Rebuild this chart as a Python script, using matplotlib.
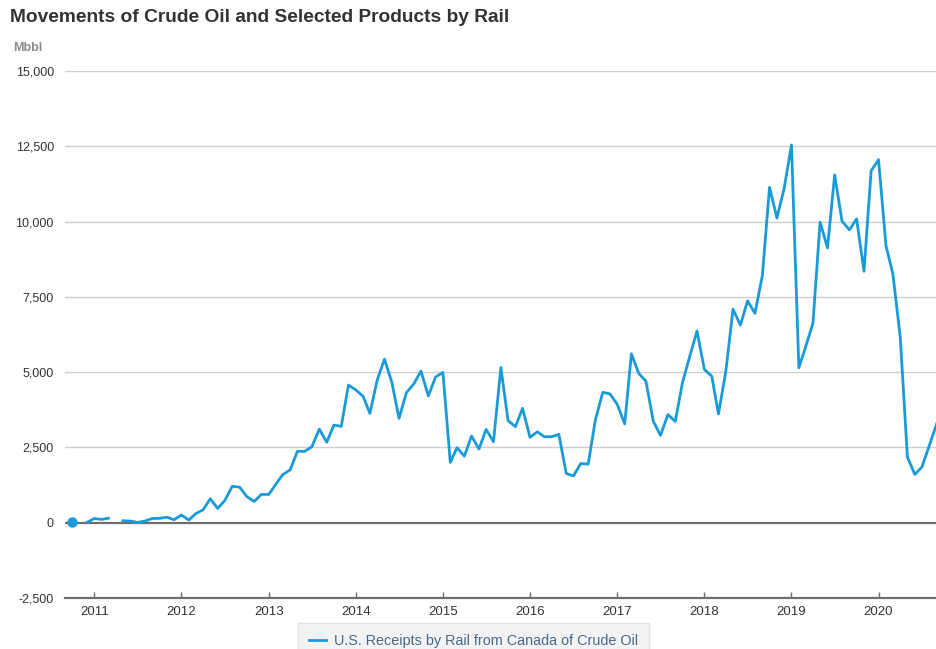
import numpy as np
import pandas as pd
import matplotlib
matplotlib.use("Agg")
import matplotlib.pyplot as plt
import matplotlib.dates as mdates
from matplotlib.ticker import FixedLocator, FuncFormatter

plt.rcParams['font.family'] = ['Liberation Sans', 'DejaVu Sans']

# ---- data (Mbbl), monthly from Oct 2010 to Sep 2020 ----
start_month = '2010-10-01'
v2010 = [40, np.nan, 10]
v2011 = [140, 110, 150, np.nan, 65, 55, 10, 55, 140, 145, 185, 100]
v2012 = [255, 90, 300, 430, 795, 475, 740, 1210, 1180, 870, 705, 940]
v2013 = [940, 1290, 1600, 1755, 2370, 2370, 2525, 3110, 2670, 3240, 3200, 4570]
v2014 = [4410, 4190, 3630, 4745, 5430, 4665, 3465, 4320, 4610, 5035, 4210, 4835]
v2015 = [4990, 2000, 2490, 2210, 2880, 2445, 3100, 2690, 5155, 3390, 3190, 3800]
v2016 = [2835, 3020, 2855, 2855, 2935, 1635, 1555, 1965, 1945, 3410, 4330, 4280]
v2017 = [3930, 3280, 5610, 4955, 4700, 3365, 2900, 3590, 3365, 4645, 5535, 6365]
v2018 = [5090, 4865, 3610, 5035, 7090, 6560, 7370, 6950, 8210, 11140, 10120, 11085]
v2019 = [12545, 5145, 5830, 6625, 9980, 9125, 11550, 10010, 9725, 10090, 8350, 11690]
v2020 = [12055, 9205, 8265, 6160, 2180, 1605, 1850, 2570, 3290]

series_name = 'U.S. Receipts by Rail from Canada of Crude Oil'
title = 'Movements of Crude Oil and Selected Products by Rail'
unit_label = 'Mbbl'
y_ticks = [-2500, 0, 2500, 5000, 7500, 10000, 12500, 15000]

values = np.array(v2010 + v2011 + v2012 + v2013 + v2014 + v2015 + v2016
                  + v2017 + v2018 + v2019 + v2020, dtype=float)
dates = pd.date_range(start_month, periods=len(values), freq='MS')
x = mdates.date2num(dates.to_pydatetime())

W, H = 937, 649
fig = plt.figure(figsize=(W / 100, H / 100), dpi=100)
left_px, right_px, top_px, bottom_px = 65, 937, 71, 598
ax = fig.add_axes([left_px / W, 1 - bottom_px / H,
                   (right_px - left_px) / W, (bottom_px - top_px) / H])

line_color = '#1a9ad8'
ax.plot(x, values, color=line_color, lw=2.0, solid_joinstyle='round',
        label=series_name, zorder=3)
# isolated points (no neighbours) drawn as dots
iso = []
for i in range(len(values)):
    if np.isnan(values[i]):
        continue
    prev_nan = i == 0 or np.isnan(values[i - 1])
    next_nan = i == len(values) - 1 or np.isnan(values[i + 1])
    if prev_nan and next_nan:
        iso.append(i)
ax.plot(x[iso], values[iso], 'o', color=line_color, ms=6.5, zorder=4)

ax.set_ylim(-2500, 15000)
ax.set_xlim(mdates.date2num(pd.Timestamp('2010-08-31')),
            mdates.date2num(pd.Timestamp('2020-09-02')))

ax.yaxis.set_major_locator(FixedLocator(y_ticks))
ax.yaxis.set_major_formatter(FuncFormatter(lambda v, p: f'{int(v):,}'))
ax.xaxis.set_major_locator(mdates.YearLocator())
ax.xaxis.set_major_formatter(mdates.DateFormatter('%Y'))

for yv in y_ticks:
    if yv in (-2500,):
        continue
    if yv == 0:
        ax.axhline(0, color='#6e6e6e', lw=1.6, zorder=2)
    else:
        ax.axhline(yv, color='#cfcfcf', lw=1.0, zorder=1)

for s in ['top', 'right', 'left']:
    ax.spines[s].set_visible(False)
ax.spines['bottom'].set_color('#6e6e6e')
ax.spines['bottom'].set_linewidth(1.6)

ax.tick_params(axis='y', length=0, pad=8, labelsize=9, labelcolor='#333333')
ax.tick_params(axis='x', direction='in', length=4, width=1, color='#6e6e6e',
               pad=6, labelsize=9.5, labelcolor='#333333')

fig.text(10 / W, 1 - 18 / H, title, fontsize=13.8, fontweight='bold',
         color='#333333', va='center', ha='left')
fig.text(13 / W, 1 - 48 / H, unit_label, fontsize=9, fontweight='bold',
         color='#8c8c8c', va='center', ha='left')

leg = fig.legend(loc='upper left', bbox_to_anchor=(298 / W, 1 - 623 / H),
                 frameon=True, fancybox=False, fontsize=10.4,
                 handlelength=1.2, handletextpad=0.55, borderpad=0.75,
                 borderaxespad=0)
leg.get_frame().set_facecolor('#f1f1f1')
leg.get_frame().set_edgecolor('#dddddd')
for t in leg.get_texts():
    t.set_color('#4a6a8c')

fig.savefig('out.png', dpi=100)
